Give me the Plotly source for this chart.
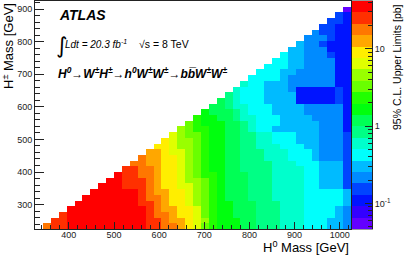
import math
import colorsys
import plotly.graph_objects as go

# ---------------- data ----------------
# H0 mass bin centres [GeV]
h0_mass = [333.75, 351.25, 368.75, 386.25, 403.75, 421.25, 438.75, 456.25, 473.75, 491.25,
           508.75, 526.25, 543.75, 561.25, 578.75, 596.25, 613.75, 631.25, 648.75, 666.25,
           683.75, 701.25, 718.75, 736.25, 753.75, 771.25, 788.75, 806.25, 823.75, 841.25,
           858.75, 876.25, 893.75, 911.25, 928.75, 946.25, 963.75, 981.25, 998.75, 1016.25]
# H+- mass bin centres [GeV]
hpm_mass = [233.75, 251.25, 268.75, 286.25, 303.75, 321.25, 338.75, 356.25, 373.75, 391.25,
            408.75, 426.25, 443.75, 461.25, 478.75, 496.25, 513.75, 531.25, 548.75, 566.25,
            583.75, 601.25, 618.75, 636.25, 653.75, 671.25, 688.75, 706.25, 723.75, 741.25,
            758.75, 776.25, 793.75, 811.25, 828.75, 846.25, 863.75, 881.25, 898.75, 916.25]

band_codes = "0123456789abcdefghij"
band_limits_pb = [0.055, 0.078, 0.109, 0.153, 0.215, 0.302, 0.424, 0.595, 0.835, 1.17,
                  1.65, 2.31, 3.25, 4.56, 6.40, 8.99, 12.6, 17.7, 24.9, 34.9]

# one string per H+- row (bottom row first); each string ends at the last H0 bin
limit_rows = [
    "hiijjjjjjjjjjiihhgfecbaaa99888777666554",
    "iijjjjjjjjjjiihggfedbaaa99888777666554",
    "ijjjjjjjjjjihhgffecbaa999888777666654",
    "jjjjjjjjjjihggffecbaa999888777666654",
    "jjjjjjjjiihgffedcbaa999888777666665",
    "jjjjjjjihhgffedcba9998887777666665",
    "jjjjjjihggffedcba9998887777666665",
    "jjjiiihgffeedcba9998887777665553",
    "jjiiihgffeddcba9998887777665553",
    "jiihhgffedcbba9998887777665553",
    "iihhgffedcbaa9988887777665553",
    "hhggffedcbaa9988887776665553",
    "hggffedcbaa9988877766654443",
    "ggfeedcbaa9988877766654443",
    "ffeddcbaa9988777666554443",
    "feddcbaa9988776665554443",
    "edccbaa9988776665554443",
    "dcbbaa9987665555554442",
    "cbaaa9987666555554442",
    "baa99877666555544442",
    "a999876665555444442",
    "998776665555444442",
    "98766655552222232",
    "8766655552222232",
    "766655542222232",
    "76655544444422",
    "6666544444422",
    "666554444422",
    "66655444422",
    "6655444422",
    "655444322",
    "55444222",
    "5443222",
    "444322",
    "43322",
    "3322",
    "332",
    "32",
    "0",
]

z_range_pb = [0.0467, 41.4]
x_ticks = [400, 500, 600, 700, 800, 900, 1000]
y_ticks = [300, 400, 500, 600, 700, 800, 900]
cbar_tick_vals = [0.1, 1, 10]
cbar_tick_text = ["10<sup>-1</sup>", "1", "10"]
cbar_minor_vals = [0.05, 0.06, 0.07, 0.08, 0.09, 0.2, 0.3, 0.4, 0.5, 0.6, 0.7, 0.8, 0.9,
                   2, 3, 4, 5, 6, 7, 8, 9, 20, 30, 40]
n_bands = 20

# ---------------- build ----------------
nx, ny = len(h0_mass), len(hpm_mass)
z = []
for j in range(ny):
    row = [None] * nx
    if j < len(limit_rows):
        s = limit_rows[j]
        assert len(s) == nx - 1 - j, (j, len(s))
        for k, ch in enumerate(s):
            row[nx - len(s) + k] = math.log10(band_limits_pb[band_codes.index(ch)])
    z.append(row)


def root_pretty(k, n=n_bands):
    idx = int((k + 0.99) * 50 / n)
    hue = max(280 - (idx + 1) * 5.6, 0)
    r, g, b = colorsys.hls_to_rgb(hue / 360.0, 0.5, 1.0)
    return "rgb(%d,%d,%d)" % (round(r * 255), round(g * 255), round(b * 255))


colorscale = []
for k in range(n_bands):
    c = root_pretty(k)
    colorscale.append([k / n_bands, c])
    colorscale.append([(k + 1) / n_bands, c])

lo, hi = math.log10(z_range_pb[0]), math.log10(z_range_pb[1])
band_centres = [lo + (hi - lo) * (k + 0.5) / n_bands for k in range(n_bands)]

FONT = "Liberation Sans, Arial, Helvetica, sans-serif"
AX = "#222222"

W, H = 405, 255
ML, MR, MT, MB = 35, 33, 1, 26
PW, PH = W - ML - MR, H - MT - MB


def px(xp):
    return (xp - ML) / PW


def py(yp):
    return (H - MB - yp) / PH


fig = go.Figure()
fig.add_trace(go.Heatmap(
    x=h0_mass, y=hpm_mass, z=z, zmin=lo, zmax=hi, colorscale=colorscale,
    showscale=False, hoverinfo="skip", xaxis="x", yaxis="y"))
fig.add_trace(go.Heatmap(
    x=[0], y=band_centres, z=[[c] for c in band_centres], zmin=lo, zmax=hi,
    colorscale=colorscale, showscale=False, hoverinfo="skip", xaxis="x2", yaxis="y2"))

tickfont = dict(family=FONT, size=9, color=AX)
fig.update_layout(
    width=W, height=H, margin=dict(l=ML, r=MR, t=MT, b=MB, pad=0),
    paper_bgcolor="white", plot_bgcolor="white", showlegend=False,
    xaxis=dict(domain=[0, px(351)], range=[325, 1025], tickvals=x_ticks, ticks="inside",
               ticklen=7, tickwidth=1, tickcolor=AX, tickfont=tickfont,
               ticklabelstandoff=-3,
               minor=dict(tickmode="linear", tick0=0, dtick=20, ticks="inside", ticklen=4,
                          tickcolor=AX, showgrid=False),
               showline=True, linecolor=AX, linewidth=1, mirror=True, showgrid=False,
               zeroline=False, anchor="y"),
    yaxis=dict(domain=[0, 1], range=[225, 925], tickvals=y_ticks, ticks="inside",
               ticklen=9, tickwidth=1, tickcolor=AX, tickfont=tickfont,
               minor=dict(tickmode="linear", tick0=0, dtick=20, ticks="inside", ticklen=5,
                          tickcolor=AX, showgrid=False),
               showline=True, linecolor=AX, linewidth=1, mirror=True, showgrid=False,
               zeroline=False, anchor="x"),
    xaxis2=dict(domain=[px(352), 1], range=[-0.5, 0.5], showticklabels=False, ticks="",
                showline=True, linecolor="#999999", linewidth=1, mirror=True,
                showgrid=False, zeroline=False, anchor="y2"),
    yaxis2=dict(domain=[0, 1], range=[lo, hi], anchor="x2", side="right",
                tickvals=[math.log10(v) for v in cbar_tick_vals], ticktext=cbar_tick_text,
                ticks="inside", ticklen=7, tickwidth=1, tickcolor=AX, tickfont=tickfont,
                minor=dict(tickmode="array", tickvals=[math.log10(v) for v in cbar_minor_vals],
                           ticks="inside", ticklen=4, tickcolor=AX, showgrid=False),
                showline=True, linecolor=AX, linewidth=1, showgrid=False, zeroline=False),
)

ann = []
ann.append(dict(text="H<sup>0</sup> Mass [GeV]", x=px(351), y=py(247), xanchor="right",
                yanchor="middle", font=dict(family=FONT, size=13, color="black")))
ann.append(dict(text="H<sup>±</sup> Mass [GeV]", x=px(8), y=py(1), xanchor="center",
                yanchor="top", textangle=-90, font=dict(family=FONT, size=13, color="black")))
ann.append(dict(text="95% C.L. Upper Limits [pb]", x=px(397), y=py(2), xanchor="center",
                yanchor="top", textangle=-90, font=dict(family=FONT, size=10.5, color="black")))
ann.append(dict(text="<b><i>ATLAS</i></b>", x=px(57), y=py(15), xanchor="left",
                yanchor="middle", font=dict(family=FONT, size=14, color="black")))
ann.append(dict(text="∫", x=px(54), y=py(45), xanchor="left", yanchor="middle",
                font=dict(family="DejaVu Sans", size=22, color="black")))
ann.append(dict(text="<i>Ldt = 20.3 fb<sup>-1</sup></i>", x=px(63), y=py(44), xanchor="left",
                yanchor="middle", font=dict(family=FONT, size=10, color="black")))
ann.append(dict(text="√s = 8 TeV", x=px(137), y=py(44), xanchor="left", yanchor="middle",
                font=dict(family=FONT, size=10.5, color="black")))
proc = ("<b><i>H<sup>0</sup></i></b>→<b><i>W<sup>±</sup>H<sup>±</sup></i></b>→"
        "<b><i>h<sup>0</sup>W<sup>±</sup>W<sup>±</sup></i></b>→"
        "<b><i>bb\u0305W<sup>±</sup>W<sup>±</sup></i></b>")
ann.append(dict(text=proc, x=px(56), y=py(73), xanchor="left", yanchor="middle",
                font=dict(family=FONT, size=12, color="black")))
for a in ann:
    a.update(xref="paper", yref="paper", showarrow=False)
fig.update_layout(annotations=ann)

fig.write_html("out.html", config={"displayModeBar": False, "staticPlot": True},
               post_script="document.body.style.margin='0px';document.body.style.padding='0px';")
